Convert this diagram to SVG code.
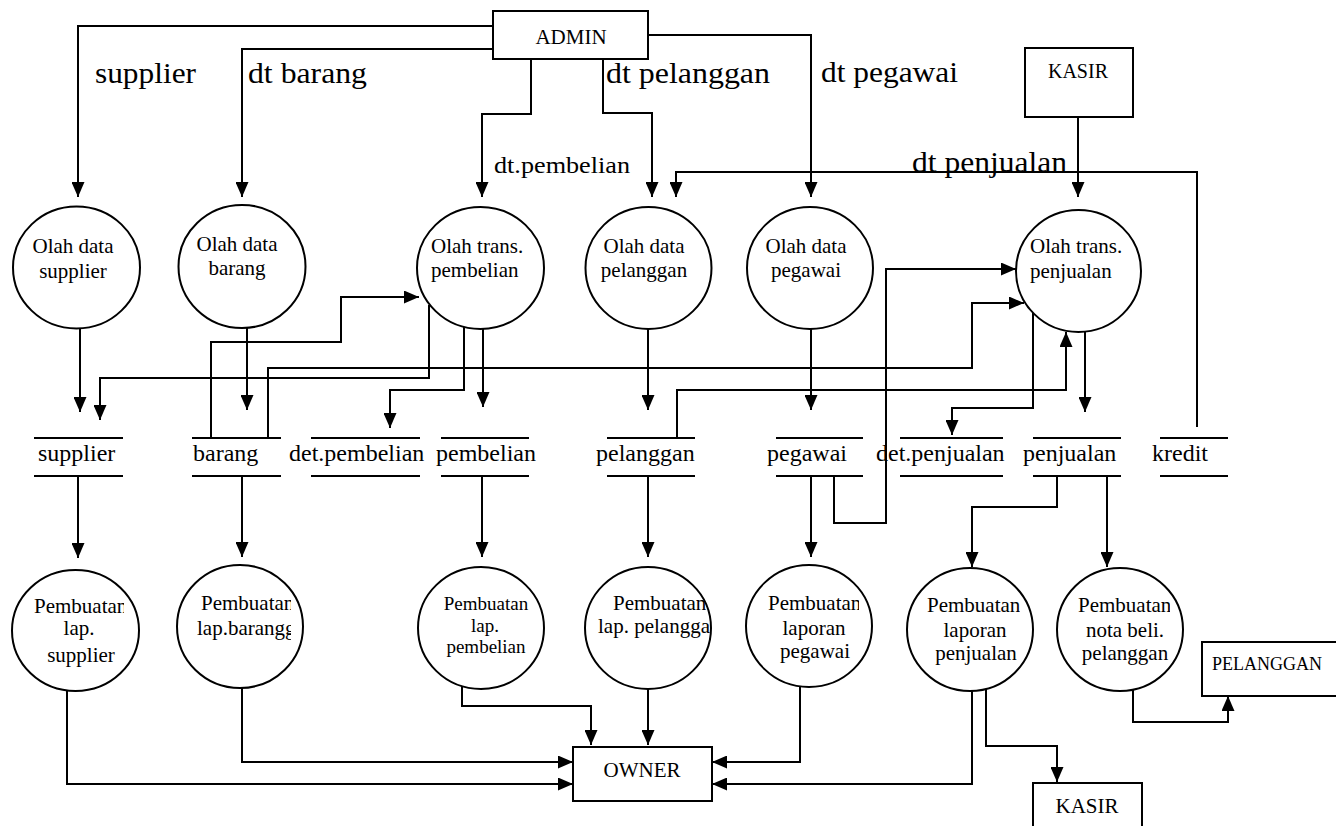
<svg xmlns="http://www.w3.org/2000/svg" width="1336" height="826" viewBox="0 0 1336 826">
  <style>
    .bg { fill: #ffffff; }
    .proc { fill: #ffffff; stroke: #000; stroke-width: 2; }
    .ent { fill: #ffffff; stroke: #000; stroke-width: 2; }
    .store line { stroke: #000; stroke-width: 2; }
    .flow path { fill: none; stroke: #000; stroke-width: 2; marker-end: url(#arr); }
    .flow path.plain { marker-end: none; }
    text { font-family: "Liberation Serif", "Times New Roman", serif; fill: #000; }
    .t21 { font-size: 21px; }
    .t19 { font-size: 19px; }
    .st { font-size: 24px; }
    .lbl { font-size: 30px; }
    .mid { text-anchor: middle; }
  </style>
  <defs>
    <marker id="arr" markerWidth="15" markerHeight="13" refX="15" refY="6.5" orient="auto" markerUnits="userSpaceOnUse">
      <path d="M0,0 L15,6.5 L0,13 z" fill="#000"/>
    </marker>
    <clipPath id="cSup"><rect x="0" y="590" width="124" height="30"/></clipPath>
    <clipPath id="cBrg"><rect x="180" y="588" width="111" height="55"/></clipPath>
    <clipPath id="cPeg"><rect x="750" y="588" width="109" height="30"/></clipPath>
    <clipPath id="cPjl"><rect x="910" y="590" width="110" height="30"/></clipPath>
    <clipPath id="cNota"><rect x="1060" y="590" width="110" height="30"/></clipPath>
  </defs>

  <rect class="bg" x="0" y="0" width="1336" height="826"/>

  <!-- data flows -->
  <g id="connectors" class="flow">
    <path d="M493,26 H78 V197"/>
    <path d="M493,49 H242 V197"/>
    <path d="M531,59 V114 H482 V197"/>
    <path d="M603,59 V113 H652 V197"/>
    <path d="M648,35 H811 V197"/>
    <path d="M1078,117 V197"/>
    <path d="M1197,427 V172 H676 V197"/>
    <path d="M80,328 V412"/>
    <path d="M429,305 V378 H100 V420"/>
    <path d="M247,328 V410"/>
    <path d="M211,438 V342 H341 V297 H419"/>
    <path d="M464,327 V390 H390 V428"/>
    <path d="M483,329 V407"/>
    <path d="M648,329 V410"/>
    <path d="M268,438 V368 H972 V303 H1024"/>
    <path d="M677,437 V390 H1066 V332"/>
    <path d="M811,329 V410"/>
    <path d="M834,477 V523 H886 V269 H1016"/>
    <path d="M1033,313 V408 H952 V435"/>
    <path d="M1085,332 V412"/>
    <path d="M78,476 V558"/>
    <path d="M242,476 V557"/>
    <path d="M482,476 V557"/>
    <path d="M648,476 V557"/>
    <path d="M811,476 V557"/>
    <path d="M1057,476 V507 H972 V567"/>
    <path d="M1107,476 V567"/>
    <path d="M462,686 V706 H591 V745"/>
    <path d="M648,689 V745"/>
    <path d="M242,688 V762 H573"/>
    <path d="M67,691 V784 H573"/>
    <path d="M800,686 V762 H712"/>
    <path d="M972,691 V784 H712"/>
    <path d="M986,689 V746 H1057 V782"/>
    <path d="M1133,690 V722 H1228 V696"/>
  </g>

  <!-- flow labels -->
  <g id="flow-labels">
    <text class="lbl" x="95" y="83" textLength="101" lengthAdjust="spacingAndGlyphs">supplier</text>
    <text class="lbl" x="248" y="83" textLength="119" lengthAdjust="spacingAndGlyphs">dt barang</text>
    <text class="lbl" x="606" y="83" textLength="164" lengthAdjust="spacingAndGlyphs">dt pelanggan</text>
    <text class="lbl" x="821" y="82" textLength="137" lengthAdjust="spacingAndGlyphs">dt pegawai</text>
    <text class="lbl" x="912" y="172" textLength="155" lengthAdjust="spacingAndGlyphs">dt penjualan</text>
    <text x="494" y="173" font-size="24" textLength="136" lengthAdjust="spacingAndGlyphs">dt.pembelian</text>
  </g>

  <!-- external entities -->
  <g id="admin">
    <rect class="ent" x="493" y="11" width="155" height="48"/>
    <text class="t21 mid" x="571" y="44">ADMIN</text>
  </g>
  <g id="kasir-in">
    <rect class="ent" x="1025" y="48" width="108" height="69"/>
    <text class="mid" font-size="20" x="1078" y="78">KASIR</text>
  </g>
  <g id="owner">
    <rect class="ent" x="573" y="747" width="139" height="54"/>
    <text class="t21 mid" x="642" y="777">OWNER</text>
  </g>
  <g id="pelanggan-ent">
    <rect class="ent" x="1202" y="642" width="140" height="54"/>
    <text x="1212" y="670" font-size="18">PELANGGAN</text>
  </g>
  <g id="kasir-out">
    <rect class="ent" x="1033" y="783" width="109" height="60"/>
    <text class="t21 mid" x="1087" y="813">KASIR</text>
  </g>

  <!-- input processes -->
  <g id="p-olah-supplier">
    <ellipse class="proc" cx="76.5" cy="267.5" rx="63.5" ry="61"/>
    <text class="t21 mid" x="73" y="253">Olah data</text>
    <text class="t21 mid" x="73" y="278">supplier</text>
  </g>
  <g id="p-olah-barang">
    <ellipse class="proc" cx="242" cy="266.5" rx="63.5" ry="61.5"/>
    <text class="t21 mid" x="237" y="251">Olah data</text>
    <text class="t21 mid" x="237" y="275">barang</text>
  </g>
  <g id="p-trans-pembelian">
    <ellipse class="proc" cx="480.5" cy="268" rx="63.5" ry="61"/>
    <text class="t21" x="431" y="253">Olah trans.</text>
    <text class="t21" x="431" y="277">pembelian</text>
  </g>
  <g id="p-olah-pelanggan">
    <ellipse class="proc" cx="648.5" cy="268" rx="63" ry="61"/>
    <text class="t21 mid" x="644" y="253">Olah data</text>
    <text class="t21 mid" x="644" y="277">pelanggan</text>
  </g>
  <g id="p-olah-pegawai">
    <ellipse class="proc" cx="810" cy="268" rx="63" ry="61"/>
    <text class="t21 mid" x="806" y="253">Olah data</text>
    <text class="t21 mid" x="806" y="277">pegawai</text>
  </g>
  <g id="p-trans-penjualan">
    <ellipse class="proc" cx="1078.5" cy="271" rx="62.5" ry="61"/>
    <text class="t21" x="1030" y="253">Olah trans.</text>
    <text class="t21" x="1030" y="278">penjualan</text>
  </g>

  <!-- data stores -->
  <g id="s-supplier" class="store">
    <line x1="34" y1="438" x2="123" y2="438"/><line x1="34" y1="476" x2="123" y2="476"/>
    <text class="st" x="38" y="461">supplier</text>
  </g>
  <g id="s-barang" class="store">
    <line x1="192" y1="438" x2="281" y2="438"/><line x1="192" y1="476" x2="281" y2="476"/>
    <text class="st" x="193" y="461">barang</text>
  </g>
  <g id="s-det-pembelian" class="store">
    <line x1="311" y1="438" x2="420" y2="438"/><line x1="311" y1="476" x2="420" y2="476"/>
    <text class="st" x="289" y="461">det.pembelian</text>
  </g>
  <g id="s-pembelian" class="store">
    <line x1="441" y1="438" x2="529" y2="438"/><line x1="441" y1="476" x2="529" y2="476"/>
    <text class="st" x="436" y="461">pembelian</text>
  </g>
  <g id="s-pelanggan" class="store">
    <line x1="607" y1="438" x2="695" y2="438"/><line x1="607" y1="476" x2="695" y2="476"/>
    <text class="st" x="596" y="461">pelanggan</text>
  </g>
  <g id="s-pegawai" class="store">
    <line x1="776" y1="438" x2="863" y2="438"/><line x1="776" y1="476" x2="863" y2="476"/>
    <text class="st" x="767" y="461">pegawai</text>
  </g>
  <g id="s-det-penjualan" class="store">
    <line x1="900" y1="438" x2="1003" y2="438"/><line x1="900" y1="476" x2="1003" y2="476"/>
    <text class="st" x="876" y="461">det.penjualan</text>
  </g>
  <g id="s-penjualan" class="store">
    <line x1="1033" y1="438" x2="1121" y2="438"/><line x1="1033" y1="476" x2="1121" y2="476"/>
    <text class="st" x="1023" y="461">penjualan</text>
  </g>
  <g id="s-kredit" class="store">
    <line x1="1160" y1="438" x2="1228" y2="438"/><line x1="1160" y1="476" x2="1228" y2="476"/>
    <text class="st" x="1152" y="461">kredit</text>
  </g>

  <!-- report processes -->
  <g id="r-supplier">
    <ellipse class="proc" cx="75.5" cy="630.5" rx="63.5" ry="60.5"/>
    <text class="t21" x="34" y="613" clip-path="url(#cSup)">Pembuatan</text>
    <text class="t21 mid" x="79" y="635">lap.</text>
    <text class="t21 mid" x="81" y="662">supplier</text>
  </g>
  <g id="r-barang">
    <ellipse class="proc" cx="240" cy="626.5" rx="63" ry="61.5"/>
    <g clip-path="url(#cBrg)">
      <text class="t21" x="201" y="610">Pembuatan</text>
      <text class="t21" x="197" y="635">lap.barangg</text>
    </g>
  </g>
  <g id="r-pembelian">
    <ellipse class="proc" cx="481" cy="628" rx="63" ry="61"/>
    <text class="t19 mid" x="486" y="610">Pembuatan</text>
    <text class="t19 mid" x="485" y="632">lap.</text>
    <text class="t19 mid" x="486" y="653">pembelian</text>
  </g>
  <g id="r-pelanggan">
    <ellipse class="proc" cx="648" cy="628" rx="63" ry="61"/>
    <text class="t21" x="613" y="610">Pembuatan</text>
    <text class="t21" x="598" y="633">lap. pelangga</text>
  </g>
  <g id="r-pegawai">
    <ellipse class="proc" cx="809" cy="626" rx="63" ry="61"/>
    <text class="t21" x="768" y="610" clip-path="url(#cPeg)">Pembuatan</text>
    <text class="t21 mid" x="814" y="635">laporan</text>
    <text class="t21 mid" x="815" y="658">pegawai</text>
  </g>
  <g id="r-penjualan">
    <ellipse class="proc" cx="970" cy="629.5" rx="63" ry="61.5"/>
    <text class="t21" x="927" y="612" clip-path="url(#cPjl)">Pembuatan</text>
    <text class="t21 mid" x="975" y="637">laporan</text>
    <text class="t21 mid" x="976" y="660">penjualan</text>
  </g>
  <g id="r-nota">
    <ellipse class="proc" cx="1120" cy="629.5" rx="63" ry="61.5"/>
    <text class="t21" x="1078" y="612" clip-path="url(#cNota)">Pembuatan</text>
    <text class="t21 mid" x="1125" y="637">nota beli.</text>
    <text class="t21 mid" x="1125" y="660">pelanggan</text>
  </g>
</svg>
